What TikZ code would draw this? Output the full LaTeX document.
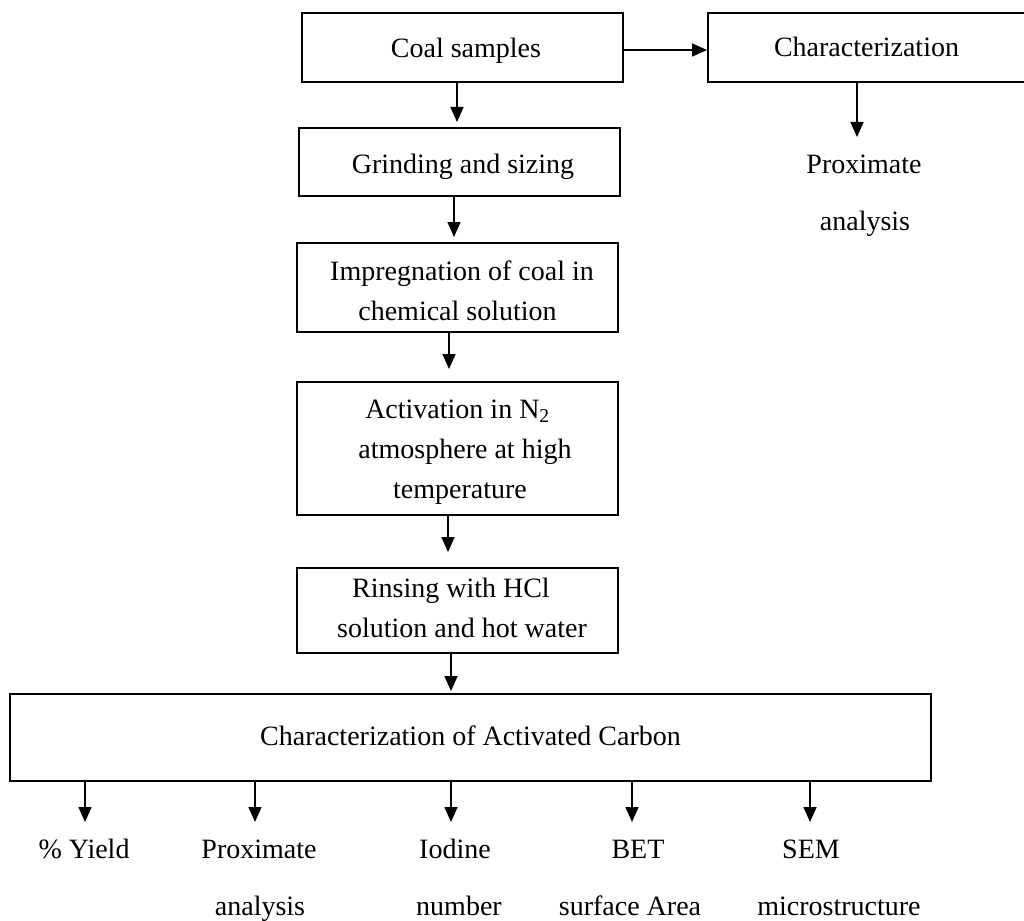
\documentclass[tikz,border=0pt]{standalone}
\usepackage{fontspec}
\setmainfont{Liberation Serif}
\usetikzlibrary{arrows.meta}
\begin{document}
\begin{tikzpicture}[x=1pt,y=-1pt,
  box/.style={draw, line width=2pt, rectangle, inner sep=0pt, align=center,
              font=\fontsize{28}{40}\selectfont, text depth=0pt},
  lbl/.style={inner sep=0pt, anchor=base, font=\fontsize{28}{40}\selectfont},
  arr/.style={line width=1.6pt, -{Triangle[length=15pt,width=13pt]}}]
\useasboundingbox (0,0) rectangle (1024,920);

% boxes
\node[box, minimum width=321pt, minimum height=69pt, text height=21pt] (coal) at (462.5,47.5) {\hspace*{7pt}Coal samples};
\node[box, minimum width=317pt, minimum height=69pt, text height=19pt] (char) at (866.5,47.5) {Characterization};
\node[box, minimum width=321pt, minimum height=68pt, text height=22pt] (grind) at (459.5,162) {\hspace*{7pt}Grinding and sizing};
\node[box, minimum width=321pt, minimum height=89pt, text height=65pt] (impreg) at (457.5,287.5) {\hspace*{9pt}Impregnation of coal in\\chemical solution};
\node[box, minimum width=321pt, minimum height=133pt, text height=99pt] (activ) at (457.5,448.5) {Activation in N\textsubscript{2}\\\hspace*{15pt}atmosphere at high\\\hspace*{5pt}temperature};
\node[box, minimum width=321pt, minimum height=85pt, text height=53pt] (rinse) at (457.5,610.5) {Rinsing with HCl\rule{13pt}{0pt}\\\hspace*{9pt}solution and hot water};
\node[box, minimum width=921pt, minimum height=87pt, text height=15pt] (big) at (470.5,737.5) {Characterization of Activated Carbon};

% labels
\node[lbl] (prox1) at (864,173) {Proximate};
\node[lbl] (anal1) at (865,230) {analysis};
\node[lbl] (yield) at (84,858) {\% Yield};
\node[lbl] (prox2) at (259,858) {Proximate};
\node[lbl] (anal2) at (260,915) {analysis};
\node[lbl] (iod) at (455,858) {Iodine};
\node[lbl] (num) at (459,915) {number};
\node[lbl] (bet) at (638,858) {BET};
\node[lbl] (surf) at (630,915) {surface Area};
\node[lbl] (sem) at (811,858) {SEM};
\node[lbl] (micro) at (839,915) {microstructure};

% arrow tips
\coordinate (t0) at (857,137);
\coordinate (b1) at (85,822);
\coordinate (b2) at (255,822);
\coordinate (b3) at (451,822);
\coordinate (b4) at (632,822);
\coordinate (b5) at (810,822);

% connectors
\draw[arr] ([yshift=-2.5pt]coal.east) -- ([yshift=-2.5pt]char.west);
\draw[arr, shorten >=5pt] ([xshift=-5.5pt]coal.south) -- ([xshift=-2.5pt]grind.north);
\draw[arr, shorten >=5pt] ([xshift=-5.5pt]grind.south) -- ([xshift=-3.5pt]impreg.north);
\draw[arr, shorten >=12pt] ([xshift=-8.5pt]impreg.south) -- ([xshift=-8.5pt]activ.north);
\draw[arr, shorten >=15pt] ([xshift=-9.5pt]activ.south) -- ([xshift=-9.5pt]rinse.north);
\draw[arr, shorten >=2pt] ([xshift=-6.5pt]rinse.south) -- ([xshift=-19.5pt]big.north);
\draw[arr] (char.south -| t0) -- (t0);
\foreach \b in {b1,b2,b3,b4,b5}
  \draw[arr] (big.south -| \b) -- (\b);
\end{tikzpicture}
\end{document}
